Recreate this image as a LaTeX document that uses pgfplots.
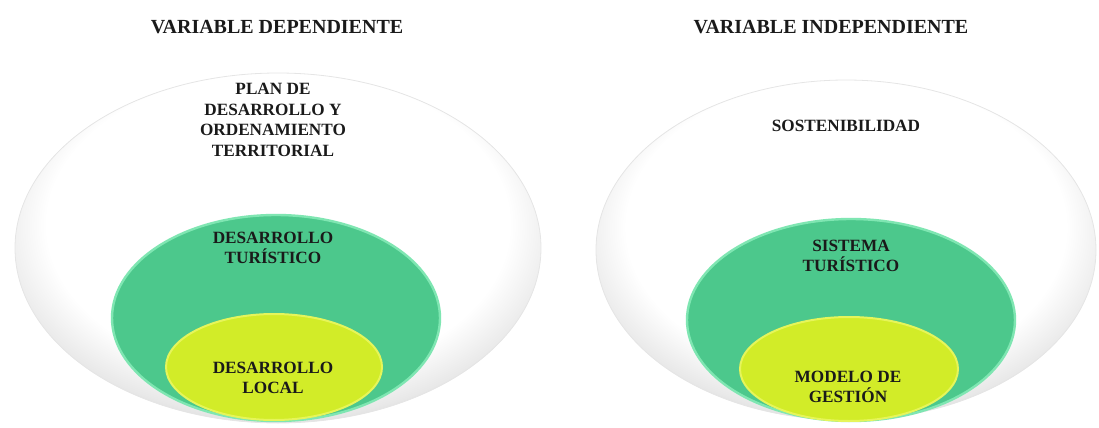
\documentclass[border=0pt]{standalone}
\usepackage{pgfplots}
\pgfplotsset{compat=1.18}
\usepackage{fontspec}
\setmainfont{Liberation Serif}
\definecolor{gfill}{HTML}{4CC88C}
\definecolor{grim}{HTML}{7FE6B2}
\definecolor{yfill}{HTML}{D2EC28}
\definecolor{yrim}{HTML}{E6F55A}
\definecolor{txt}{HTML}{1A1A1A}
\pgfdeclareradialshading{rim}{\pgfpoint{0bp}{6bp}}{color(0bp)=(white); color(22bp)=(white); color(27bp)=(black!9); color(31bp)=(black!22); color(50bp)=(black!22)}
\begin{document}
\begin{tikzpicture}
\begin{axis}[width=549.5pt, height=214pt, scale only axis,
  xmin=0, xmax=1099, ymin=0, ymax=428, y dir=reverse,
  axis lines=none, ticks=none, clip=true]
% outer ellipses (centre x, centre y, radius x, radius y)
\shade[shading=rim, draw=black!10, line width=0.4pt] (axis cs:278,248) ellipse [x radius=263, y radius=175];
\shade[shading=rim, draw=black!10, line width=0.4pt] (axis cs:846,250) ellipse [x radius=250, y radius=170];
% green
\fill[gfill, draw=grim, line width=1.2pt] (axis cs:276,318) ellipse [x radius=164, y radius=103];
\fill[gfill, draw=grim, line width=1.2pt] (axis cs:851,320) ellipse [x radius=164, y radius=101];
% yellow
\fill[yfill, draw=yrim, line width=1pt] (axis cs:274,367) ellipse [x radius=108, y radius=53];
\fill[yfill, draw=yrim, line width=1pt] (axis cs:849,369) ellipse [x radius=109, y radius=52];
% titles
\node[font=\fontsize{10}{12}\selectfont\bfseries, text=txt] at (axis cs:277,27) {VARIABLE DEPENDIENTE};
\node[font=\fontsize{10}{12}\selectfont\bfseries, text=txt] at (axis cs:831,27) {VARIABLE INDEPENDIENTE};
% labels
\node[font=\fontsize{8.6}{10.3}\selectfont\bfseries, text=txt, align=center] at (axis cs:273,120) {PLAN DE\\DESARROLLO Y\\ORDENAMIENTO\\TERRITORIAL};
\node[font=\fontsize{8.6}{10.3}\selectfont\bfseries, text=txt, align=center] at (axis cs:273,248) {DESARROLLO\\TURÍSTICO};
\node[font=\fontsize{8.6}{10.3}\selectfont\bfseries, text=txt, align=center] at (axis cs:273,378) {DESARROLLO\\LOCAL};
\node[font=\fontsize{8.6}{10.3}\selectfont\bfseries, text=txt, align=center] at (axis cs:846,126) {SOSTENIBILIDAD};
\node[font=\fontsize{8.6}{10.3}\selectfont\bfseries, text=txt, align=center] at (axis cs:851,256) {SISTEMA\\TURÍSTICO};
\node[font=\fontsize{8.6}{10.3}\selectfont\bfseries, text=txt, align=center] at (axis cs:848,387) {MODELO DE\\GESTIÓN};
\end{axis}
\path (current axis.south west) rectangle (current axis.north east);
\end{tikzpicture}
\end{document}
